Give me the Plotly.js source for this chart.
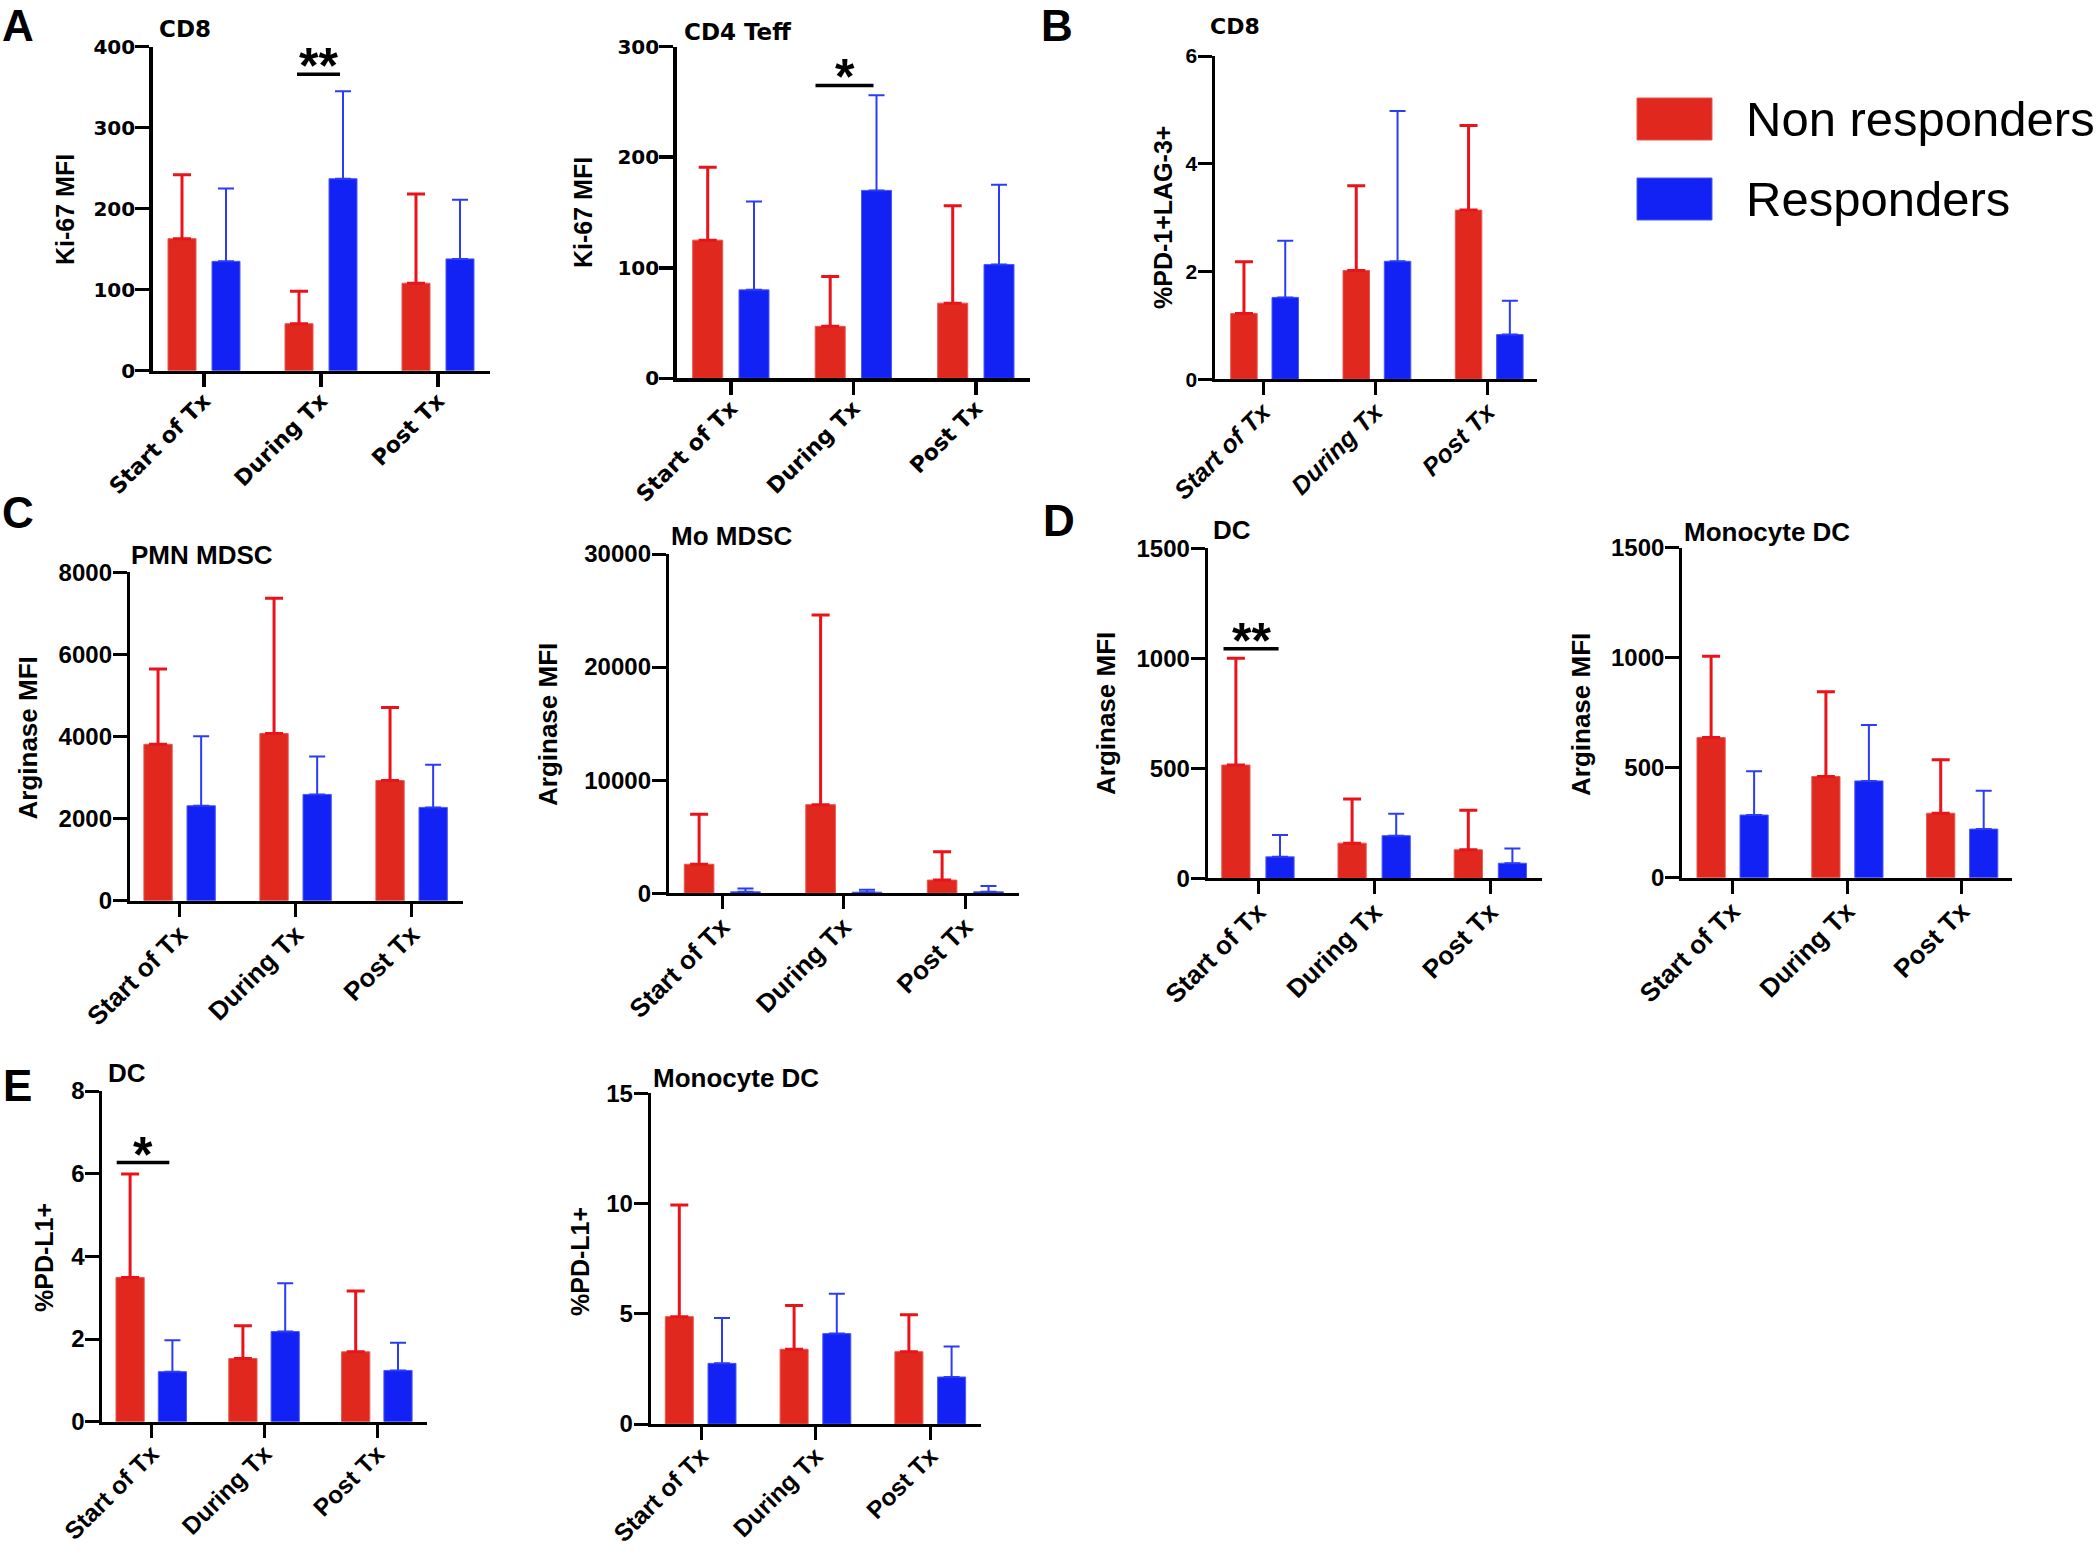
<!DOCTYPE html>
<html>
<head>
<meta charset="utf-8">
<script src="https://cdn.plot.ly/plotly-3.0.1.min.js"></script>
<style>
html, body { margin: 0; padding: 0; background: #ffffff; }
#chart { width: 2100px; height: 1553px; }
</style>
</head>
<body>
<div id="chart"></div>
<script>
// ---------------- DATA ----------------
const categories = ['Start of Tx', 'During Tx', 'Post Tx'];
const groupNames = ['Non responders', 'Responders'];

// A - CD8, Ki-67 MFI (mean, SD)
const cd8Ki67Non = [163, 58, 108];
const cd8Ki67NonSD = [79, 40, 110];
const cd8Ki67Resp = [135, 237, 138];
const cd8Ki67RespSD = [90, 108, 73];

// A - CD4 Teff, Ki-67 MFI
const cd4Ki67Non = [125, 47, 68];
const cd4Ki67NonSD = [66, 45, 88];
const cd4Ki67Resp = [80, 170, 103];
const cd4Ki67RespSD = [80, 86, 72];

// B - CD8, %PD-1+LAG-3+
const cd8PdLagNon = [1.22, 2.02, 3.14];
const cd8PdLagNonSD = [0.96, 1.57, 1.57];
const cd8PdLagResp = [1.52, 2.19, 0.83];
const cd8PdLagRespSD = [1.05, 2.79, 0.63];

// C - PMN MDSC, Arginase MFI
const pmnArgNon = [3810, 4075, 2930];
const pmnArgNonSD = [1835, 3290, 1775];
const pmnArgResp = [2315, 2590, 2275];
const pmnArgRespSD = [1695, 925, 1040];

// C - Mo MDSC, Arginase MFI
const moArgNon = [2560, 7830, 1160];
const moArgNonSD = [4415, 16780, 2495];
const moArgResp = [120, 90, 120];
const moArgRespSD = [305, 215, 520];

// D - DC, Arginase MFI
const dcArgNon = [515, 160, 130];
const dcArgNonSD = [485, 201, 180];
const dcArgResp = [98, 194, 69];
const dcArgRespSD = [99, 100, 67];

// D - Monocyte DC, Arginase MFI
const modcArgNon = [637, 460, 293];
const modcArgNonSD = [370, 386, 243];
const modcArgResp = [285, 440, 221];
const modcArgRespSD = [199, 254, 174];

// E - DC, %PD-L1+
const dcPdl1Non = [3.49, 1.53, 1.69];
const dcPdl1NonSD = [2.50, 0.79, 1.47];
const dcPdl1Resp = [1.21, 2.18, 1.24];
const dcPdl1RespSD = [0.76, 1.17, 0.67];

// E - Monocyte DC, %PD-L1+
const modcPdl1Non = [4.87, 3.39, 3.28];
const modcPdl1NonSD = [5.06, 1.99, 1.68];
const modcPdl1Resp = [2.75, 4.10, 2.13];
const modcPdl1RespSD = [2.06, 1.81, 1.39];

const panelTitles = ['CD8', 'CD4 Teff', 'CD8', 'PMN MDSC', 'Mo MDSC', 'DC', 'Monocyte DC', 'DC', 'Monocyte DC'];
const yTitles = ['Ki-67 MFI', 'Ki-67 MFI', '%PD-1+LAG-3+', 'Arginase MFI', 'Arginase MFI',
                 'Arginase MFI', 'Arginase MFI', '%PD-L1+', '%PD-L1+'];
const yMax = [400, 300, 6, 8000, 30000, 1500, 1500, 8, 15];
const yStep = [100, 100, 2, 2000, 10000, 500, 500, 2, 5];
const panelLetters = ['A', 'B', 'C', 'D', 'E'];

// significance marks: panel index, category, bar level, label
const sigPanel = [0, 1, 5, 7];
const sigCategory = ['During Tx', 'During Tx', 'Start of Tx', 'Start of Tx'];
const sigLevel = [366, 265, 1043, 6.27];
const sigLabel = ['**', '*', '**', '*'];

const seriesNon = [cd8Ki67Non, cd4Ki67Non, cd8PdLagNon, pmnArgNon, moArgNon, dcArgNon, modcArgNon, dcPdl1Non, modcPdl1Non];
const seriesNonSD = [cd8Ki67NonSD, cd4Ki67NonSD, cd8PdLagNonSD, pmnArgNonSD, moArgNonSD, dcArgNonSD, modcArgNonSD, dcPdl1NonSD, modcPdl1NonSD];
const seriesResp = [cd8Ki67Resp, cd4Ki67Resp, cd8PdLagResp, pmnArgResp, moArgResp, dcArgResp, modcArgResp, dcPdl1Resp, modcPdl1Resp];
const seriesRespSD = [cd8Ki67RespSD, cd4Ki67RespSD, cd8PdLagRespSD, pmnArgRespSD, moArgRespSD, dcArgRespSD, modcArgRespSD, dcPdl1RespSD, modcPdl1RespSD];

// ---------------- STYLE / LAYOUT ----------------
const W = 2100, H = 1553;
const RED = '#E0281F', RED_EDGE = '#E8564E', RED_ERR = '#E8141A';
const BLUE = '#1222F4', BLUE_EDGE = '#4A58F8', BLUE_ERR = '#2A3CF6';
const SANS = 'Liberation Sans';
const WIDE = 'DejaVu Sans';

// pixel geometry of each panel (style only)
const geom = [
  {L:152.7, R:490,   T:46.7,  B:370.7,  t0:204,    sp:117,   redL:-36,   blueL:8,   bw:28,   tx:158,  ty:29,   yx:65,   yy:210,  yts:25, st:'A', sigA:-24, sigB:19},
  {L:676.7, R:1030,  T:46.7,  B:378.3,  t0:731,    sp:122.5, redL:-38.3, blueL:8,   bw:30,   tx:683,  ty:32,   yx:583,  yy:213,  yts:25, st:'A', sigA:-38, sigB:20},
  {L:1214.5,R:1537,  T:56,    B:379.3,  t0:1263,   sp:112.3, redL:-32.3, blueL:9,   bw:26.5, tx:1209, ty:27,   yx:1163, yy:218,  yts:25, st:'B'},
  {L:129.8, R:463.2, T:572.3, B:900.8,  t0:179.8,  sp:116,   redL:-35.9, blueL:7.2, bw:28.3, tx:130,  ty:555,  yx:27.5, yy:738,  yts:26, st:'C'},
  {L:668.8, R:1019.3,T:554,   B:893.2,  t0:722.1,  sp:121.5, redL:-37.8, blueL:8.6, bw:29.6, tx:670,  ty:536,  yx:548,  yy:725,  yts:26, st:'C'},
  {L:1207.7,R:1542,  T:548.2, B:878.4,  t0:1258,   sp:116.2, redL:-36.2, blueL:7.9, bw:28.2, tx:1212, ty:530,  yx:1106, yy:714,  yts:26, st:'C', sigA:-34.5, sigB:20.6},
  {L:1682.2,R:2012,  T:547.8, B:877.7,  t0:1732.2, sp:114.8, redL:-35.2, blueL:7.8, bw:28.2, tx:1683, ty:532,  yx:1581, yy:715,  yts:26, st:'C'},
  {L:102.3, R:427.3, T:1091,  B:1421.7, t0:151.7,  sp:112.8, redL:-35.7, blueL:6.6, bw:28.2, tx:107,  ty:1073, yx:44,   yy:1258, yts:25, st:'E', sigA:-35, sigB:17.6},
  {L:650.7, R:980.7, T:1093.3,B:1424,   t0:701,    sp:114.8, redL:-35.7, blueL:7,   bw:28,   tx:652,  ty:1078, yx:580,  yy:1262, yts:25, st:'E'}
];
// [x center, y, anchor]
const letterPos = [[18, 0, 'top'], [1057, 0, 'top'], [18, 513, 'middle'], [1059, 520, 'middle'], [17, 1085, 'middle']];

const styleFonts = {
  A: {ytick: {family: WIDE, size: 20, weight: 'bold'}, xtick: {family: WIDE, size: 22, weight: 'bold'}, title: {family: WIDE, size: 23, weight: 'bold'}, lw: 3.5},
  B: {ytick: {family: SANS, size: 21, weight: 'bold'}, xtick: {family: SANS, size: 25, weight: 'bold', style: 'italic'}, title: {family: WIDE, size: 22, weight: 'bold'}, lw: 3},
  C: {ytick: {family: SANS, size: 24, weight: 'bold'}, xtick: {family: SANS, size: 26, weight: 'bold'}, title: {family: SANS, size: 26, weight: 'bold'}, lw: 3},
  E: {ytick: {family: SANS, size: 24, weight: 'bold'}, xtick: {family: SANS, size: 24.5, weight: 'bold'}, title: {family: SANS, size: 26, weight: 'bold'}, lw: 3}
};

const traces = [];
const layout = {
  width: W, height: H,
  margin: {l: 0, r: 0, t: 0, b: 0, pad: 0},
  paper_bgcolor: '#ffffff',
  plot_bgcolor: 'rgba(0,0,0,0)',
  showlegend: false,
  barmode: 'overlay',
  font: {family: SANS, color: '#000000'},
  annotations: [],
  shapes: []
};

geom.forEach(function (g, i) {
  const sx = i === 0 ? '' : String(i + 1);
  const sf = styleFonts[g.st];
  const col = function (f) { return Object.assign({color: '#000000'}, f); };

  layout['xaxis' + sx] = {
    domain: [g.L / W, g.R / W], anchor: 'y' + sx,
    type: 'category', categoryorder: 'array', categoryarray: categories,
    range: [(g.L - g.t0) / g.sp, (g.R - g.t0) / g.sp], autorange: false,
    showline: true, linecolor: '#000000', linewidth: sf.lw,
    ticks: 'outside', ticklen: 13, tickwidth: sf.lw, tickcolor: '#000000',
    ticklabelstandoff: -8,
    tickangle: -45, tickfont: col(sf.xtick),
    showgrid: false, zeroline: false, fixedrange: true
  };
  layout['yaxis' + sx] = {
    domain: [1 - g.B / H, 1 - g.T / H], anchor: 'x' + sx,
    range: [0, yMax[i]], autorange: false,
    tickmode: 'linear', tick0: 0, dtick: yStep[i], tickformat: 'd',
    showline: true, linecolor: '#000000', linewidth: sf.lw,
    ticks: 'outside', ticklen: 14, tickwidth: sf.lw, tickcolor: '#000000',
    ticklabelstandoff: -4,
    tickfont: col(sf.ytick),
    showgrid: false, zeroline: false, fixedrange: true
  };

  const zeros = categories.map(function () { return 0; });
  traces.push({
    type: 'bar', name: groupNames[0], x: categories, y: seriesNon[i],
    xaxis: 'x' + sx, yaxis: 'y' + sx,
    width: g.bw / g.sp, offset: g.redL / g.sp,
    marker: {color: RED, line: {color: RED_EDGE, width: 1}},
    error_y: {type: 'data', symmetric: false, array: seriesNonSD[i], arrayminus: zeros,
              color: RED_ERR, thickness: 3, width: 9}
  });
  traces.push({
    type: 'bar', name: groupNames[1], x: categories, y: seriesResp[i],
    xaxis: 'x' + sx, yaxis: 'y' + sx,
    width: g.bw / g.sp, offset: g.blueL / g.sp,
    marker: {color: BLUE, line: {color: BLUE_EDGE, width: 1}},
    error_y: {type: 'data', symmetric: false, array: seriesRespSD[i], arrayminus: zeros,
              color: BLUE_ERR, thickness: 2, width: 8}
  });

  // panel title
  layout.annotations.push({
    xref: 'paper', yref: 'paper', x: g.tx / W, y: 1 - g.ty / H,
    xanchor: 'left', yanchor: 'middle', showarrow: false, borderpad: 0,
    text: panelTitles[i], font: col(sf.title)
  });
  // y axis title
  layout.annotations.push({
    xref: 'paper', yref: 'paper', x: g.yx / W, y: 1 - g.yy / H,
    xanchor: 'center', yanchor: 'middle', showarrow: false, textangle: -90,
    text: yTitles[i], font: {family: SANS, size: g.yts, weight: 'bold', color: '#000000'}
  });
});

// significance bars
sigPanel.forEach(function (p, k) {
  const g = geom[p];
  const sx = p === 0 ? '' : String(p + 1);
  const c = categories.indexOf(sigCategory[k]);
  const x0 = c + g.sigA / g.sp, x1 = c + g.sigB / g.sp;
  layout.shapes.push({
    type: 'line', xref: 'x' + sx, yref: 'y' + sx,
    x0: x0, x1: x1, y0: sigLevel[k], y1: sigLevel[k],
    line: {color: '#000000', width: 3.5}
  });
  layout.annotations.push({
    xref: 'x' + sx, yref: 'y' + sx, x: (x0 + x1) / 2, y: sigLevel[k],
    xanchor: 'center', yanchor: 'bottom', yshift: -22, showarrow: false,
    text: sigLabel[k], font: {family: SANS, size: 50, weight: 'bold', color: '#000000'}
  });
});

// panel letters
panelLetters.forEach(function (t, k) {
  layout.annotations.push({
    xref: 'paper', yref: 'paper', x: letterPos[k][0] / W, y: 1 - letterPos[k][1] / H,
    xanchor: 'center', yanchor: letterPos[k][2], showarrow: false, borderpad: 0,
    text: t, font: {family: SANS, size: 44, weight: 'bold', color: '#000000'}
  });
});

// legend (drawn manually with large swatches)
const legendColors = [RED, BLUE];
const legendEdges = [RED_EDGE, BLUE_EDGE];
const legendTop = [98, 178];
groupNames.forEach(function (name, k) {
  layout.shapes.push({
    type: 'rect', xref: 'paper', yref: 'paper',
    x0: 1637 / W, x1: 1712 / W, y0: 1 - (legendTop[k] + 42) / H, y1: 1 - legendTop[k] / H,
    fillcolor: legendColors[k], line: {color: legendEdges[k], width: 1}
  });
  layout.annotations.push({
    xref: 'paper', yref: 'paper', x: 1745 / W, y: 1 - (legendTop[k] + 21) / H,
    xanchor: 'left', yanchor: 'middle', showarrow: false, borderpad: 0,
    text: name, font: {family: SANS, size: 49, color: '#000000'}
  });
});

Plotly.newPlot('chart', traces, layout, {displayModeBar: false, staticPlot: true});
</script>
</body>
</html>
